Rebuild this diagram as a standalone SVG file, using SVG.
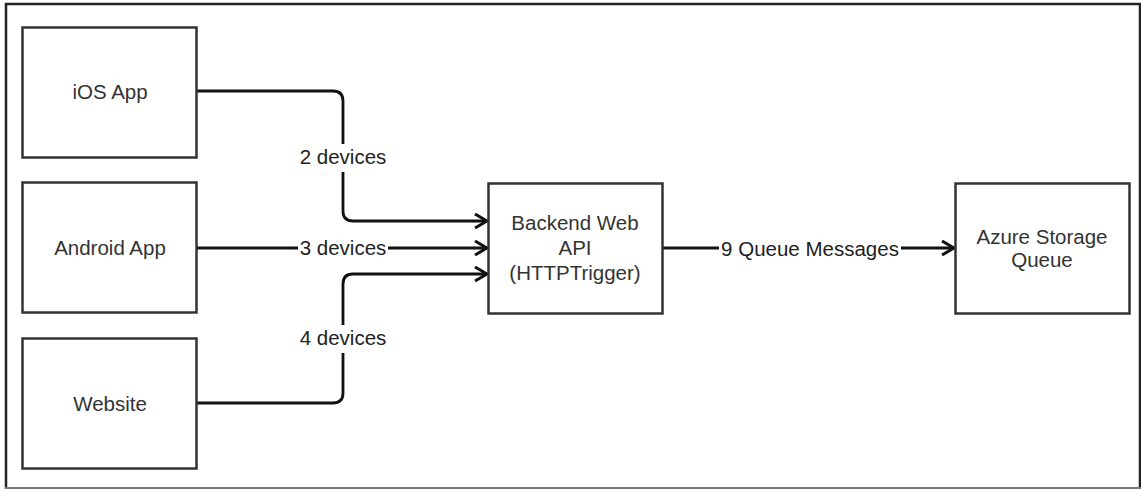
<svg xmlns="http://www.w3.org/2000/svg" width="1141" height="489" viewBox="0 0 1141 489">
<style>
.box{fill:#fff;stroke:#333;stroke-width:2.5}
.t{font-family:"Liberation Sans",Arial,sans-serif;font-size:20.5px;fill:#333;text-anchor:middle}
.lb{font-family:"Liberation Sans",Arial,sans-serif;font-size:20.5px;fill:#222;text-anchor:middle}
.c{fill:none;stroke:#111;stroke-width:2.8}
.bg{fill:#fff}
</style>
<defs>
<marker id="open" viewBox="0 0 16 16" refX="14" refY="8" markerWidth="16" markerHeight="16" markerUnits="userSpaceOnUse" orient="auto">
<path d="M2,1 L14,8 L2,15" fill="none" stroke="#111" stroke-width="3"/>
</marker>
</defs>
<rect x="0" y="0" width="1141" height="489" fill="#fff"/>
<g id="frame">
<line x1="5" y1="4" x2="1141" y2="4" stroke="#222" stroke-width="2.5"/>
<line x1="6" y1="3" x2="6" y2="489" stroke="#222" stroke-width="2.5"/>
<line x1="1140" y1="3" x2="1140" y2="489" stroke="#222" stroke-width="2.5"/>
<line x1="5" y1="488" x2="1141" y2="488" stroke="#777" stroke-width="2"/>
</g>
<g id="connectors">
<path class="c" d="M197,91 H333 Q343,91 343,101 V211 Q343,221 353,221 H487" marker-end="url(#open)"/>
<path class="c" d="M197,248 H487" marker-end="url(#open)"/>
<path class="c" d="M197,403 H333 Q343,403 343,393 V284 Q343,274 353,274 H487" marker-end="url(#open)"/>
<path class="c" d="M663,248 H954" marker-end="url(#open)"/>
<rect class="bg" x="298" y="144" width="90" height="28"/>
<text class="lb" x="343" y="164">2 devices</text>
<rect class="bg" x="298" y="235" width="90" height="26"/>
<text class="lb" x="343" y="255">3 devices</text>
<rect class="bg" x="298" y="325" width="90" height="28"/>
<text class="lb" x="343" y="345">4 devices</text>
<rect class="bg" x="719" y="235" width="182" height="26"/>
<text class="lb" x="810" y="256">9 Queue Messages</text>
</g>
<g id="ios">
<rect class="box" x="22.5" y="27.5" width="174" height="130"/>
<text class="t" x="110" y="99">iOS App</text>
</g>
<g id="android">
<rect class="box" x="22.5" y="182.5" width="174" height="130"/>
<text class="t" x="110" y="255">Android App</text>
</g>
<g id="website">
<rect class="box" x="22.5" y="338.5" width="174" height="130"/>
<text class="t" x="110" y="411">Website</text>
</g>
<g id="backend">
<rect class="box" x="488.5" y="183.5" width="174" height="130"/>
<text class="t" x="575" y="230">Backend Web</text>
<text class="t" x="575" y="255">API</text>
<text class="t" x="575" y="280">(HTTPTrigger)</text>
</g>
<g id="azure">
<rect class="box" x="955.5" y="183.5" width="174" height="130"/>
<text class="t" x="1042" y="244">Azure Storage</text>
<text class="t" x="1042" y="267">Queue</text>
</g>
</svg>
